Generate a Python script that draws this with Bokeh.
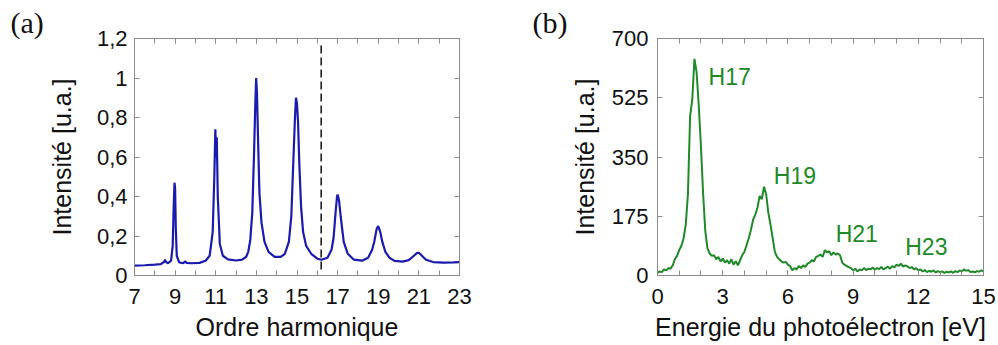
from bokeh.plotting import figure
from bokeh.models import Range1d, LinearAxis, FixedTicker, ColumnDataSource, CustomJSTickFormatter
from bokeh.layouts import row
from bokeh.core.properties import value
from bokeh.embed import file_html
from bokeh.resources import INLINE

# ---------------- data (a): harmonic spectrum ----------------
order_a = [7.0, 7.5, 8.0, 8.3, 8.45, 8.5, 8.55, 8.65, 8.8, 8.88, 8.93, 8.97, 9.0, 9.03, 9.08,
           9.2, 9.4, 9.5, 9.55, 9.8, 10.2, 10.5, 10.7, 10.85, 10.93, 10.98, 11.02, 11.05, 11.1,
           11.2, 11.35, 11.6, 12.0, 12.3, 12.5, 12.6, 12.7, 12.8, 12.88, 12.95, 12.99, 13.03, 13.08,
           13.15, 13.25, 13.4, 13.6, 13.9, 14.2, 14.4, 14.6, 14.72, 14.82, 14.9, 14.95, 15.0,
           15.05, 15.12, 15.2, 15.3, 15.45, 15.7, 16.0, 16.2, 16.5, 16.7, 16.8, 16.9, 16.97, 17.0,
           17.07, 17.15, 17.3, 17.5, 17.8, 18.2, 18.5, 18.7, 18.8, 18.92, 19.0, 19.1, 19.2,
           19.35, 19.55, 19.8, 20.2, 20.5, 20.7, 20.9, 21.0, 21.15, 21.35, 21.7, 22.2, 22.7, 23.0]
intens_a = [0.050, 0.052, 0.055, 0.058, 0.068, 0.080, 0.068, 0.062, 0.075, 0.15, 0.35, 0.47, 0.44, 0.25, 0.10,
            0.066, 0.063, 0.072, 0.064, 0.062, 0.064, 0.075, 0.10, 0.22, 0.50, 0.74, 0.60, 0.70, 0.40,
            0.16, 0.10, 0.082, 0.076, 0.080, 0.095, 0.12, 0.18, 0.32, 0.60, 0.88, 1.00, 0.92, 0.70,
            0.42, 0.27, 0.17, 0.12, 0.094, 0.094, 0.11, 0.17, 0.30, 0.58, 0.80, 0.90, 0.87,
            0.78, 0.55, 0.35, 0.22, 0.15, 0.11, 0.085, 0.080, 0.090, 0.13, 0.19, 0.32, 0.40, 0.41,
            0.38, 0.30, 0.17, 0.11, 0.080, 0.075, 0.090, 0.13, 0.17, 0.235, 0.25, 0.22, 0.17,
            0.12, 0.09, 0.074, 0.070, 0.078, 0.095, 0.113, 0.115, 0.10, 0.08, 0.068, 0.065, 0.066, 0.068]
cutoff_order = 16.19
cutoff_span = [0.03, 1.18]
x_ticks_a = [7, 9, 11, 13, 15, 17, 19, 21, 23]
x_minor_a = list(range(7, 24))
y_ticks_a = [0, 0.2, 0.4, 0.6, 0.8, 1.0, 1.2]
y_labels_a = ["0", "0,2", "0,4", "0,6", "0,8", "1", "1,2"]

# ---------------- data (b): photoelectron spectrum ----------------
energy_b = [0.0, 0.1, 0.2, 0.3, 0.4, 0.5, 0.6, 0.7, 0.8, 0.9, 1.0, 1.1, 1.2, 1.3, 1.4, 1.5, 1.6, 1.7,
            1.8, 1.9, 2.0, 2.1, 2.2, 2.3, 2.4, 2.5, 2.6, 2.7, 2.8, 2.9, 3.0, 3.1, 3.2, 3.3, 3.4, 3.5,
            3.6, 3.7, 3.8, 3.9, 4.0, 4.1, 4.2, 4.3, 4.4, 4.5, 4.6, 4.7, 4.8, 4.9, 5.0, 5.1, 5.2, 5.3,
            5.4, 5.5, 5.6, 5.7, 5.8, 5.9, 6.0, 6.1, 6.2, 6.3, 6.4, 6.5, 6.6, 6.7, 6.8, 6.9, 7.0, 7.1,
            7.2, 7.3, 7.4, 7.5, 7.6, 7.7, 7.8, 7.9, 8.0, 8.1, 8.2, 8.3, 8.4, 8.5, 8.6, 8.7, 8.8, 8.9,
            9.0, 9.1, 9.2, 9.3, 9.4, 9.5, 9.6, 9.7, 9.8, 9.9, 10.0, 10.1, 10.2, 10.3, 10.4, 10.5,
            10.6, 10.7, 10.8, 10.9, 11.0, 11.1, 11.2, 11.3, 11.4, 11.5, 11.6, 11.7, 11.8, 11.9, 12.0,
            12.1, 12.2, 12.3, 12.4, 12.5, 12.6, 12.7, 12.8, 12.9, 13.0, 13.1, 13.2, 13.3, 13.4, 13.5,
            13.6, 13.7, 13.8, 13.9, 14.0, 14.1, 14.2, 14.3, 14.4, 14.5, 14.6, 14.7, 14.8, 14.9, 15.0]
counts_b = [8, 12, 10, 18, 15, 22, 20, 30, 48, 58, 75, 88, 110, 150, 240, 470, 520, 640,
            600, 500, 380, 240, 130, 80, 65, 58, 60, 48, 55, 42, 50, 38, 45, 35, 48, 32,
            42, 30, 45, 60, 70, 90, 110, 135, 165, 180, 200, 235, 225, 262, 240, 185, 150, 110,
            70, 55, 48, 42, 38, 40, 32, 28, 15, 22, 18, 28, 22, 30, 25, 35, 38, 45,
            42, 55, 58, 62, 55, 75, 68, 72, 60, 68, 62, 65, 60, 38, 32, 28, 25, 22,
            15, 20, 12, 18, 15, 22, 16, 20, 18, 24, 17, 22, 19, 25, 18, 22,
            26, 20, 28, 24, 32, 28, 35, 26, 30, 27, 22, 25, 18, 22, 15,
            18, 12, 16, 10, 14, 11, 15, 9, 13, 10, 12, 8, 11, 9, 12,
            8, 13, 10, 15, 12, 18, 14, 16, 10, 12, 9, 13, 11, 15, 12]
peak_names = ["H17", "H19", "H21", "H23"]
peak_label_x = [2.35, 5.35, 8.2, 11.4]
peak_label_y = [585, 295, 124, 83]
x_ticks_b = [0, 3, 6, 9, 12, 15]
x_minor_b = list(range(0, 16))
y_ticks_b = [0, 175, 350, 525, 700]

BLUE = "#1a1aae"
GREEN = "#208a28"
FRAME = "#8c8c8c"
SANS = "Liberation Sans"
SERIF = "Liberation Serif"


def style(p, xt, xminor, yt, xlab, ylab, ystand, tick_stand_y, panel, panel_offset, yoverrides=None):
    p.background_fill_color = None
    p.border_fill_color = None
    p.outline_line_color = FRAME
    p.outline_line_width = 1
    p.grid.visible = False
    p.title.text = panel
    p.title.text_font = SERIF
    p.title.text_font_size = "30px"
    p.title.text_font_style = "normal"
    p.title.text_color = "#111111"
    p.title.align = "left"
    p.title.offset = panel_offset
    p.title.standoff = 0
    xa = p.xaxis[0]
    ya = p.yaxis[0]
    xa.ticker = FixedTicker(ticks=xt, minor_ticks=xminor)
    ya.ticker = FixedTicker(ticks=yt, minor_ticks=[])
    if yoverrides:
        ya.major_label_overrides = yoverrides
    for ax in (xa, ya):
        ax.axis_line_color = FRAME
        ax.major_tick_line_color = FRAME
        ax.minor_tick_line_color = FRAME
        ax.major_tick_in = 5
        ax.major_tick_out = 0
        ax.minor_tick_in = 5
        ax.minor_tick_out = 0
        ax.major_label_text_font = SANS
        ax.major_label_text_font_size = "22px"
        ax.major_label_text_color = "#111111"
        ax.axis_label_text_font = SANS
        ax.axis_label_text_font_size = "25px"
        ax.axis_label_text_font_style = "normal"
        ax.axis_label_text_color = "#111111"
    xa.axis_label = xlab
    ya.axis_label = ylab
    xa.major_label_standoff = 13
    ya.major_label_standoff = tick_stand_y
    xa.axis_label_standoff = 6
    ya.axis_label_standoff = ystand
    # mirrored axes (ticks only) on top and right
    blank = CustomJSTickFormatter(code="return ''")
    top = LinearAxis(ticker=FixedTicker(ticks=xt, minor_ticks=xminor), formatter=blank)
    right = LinearAxis(ticker=FixedTicker(ticks=yt, minor_ticks=[]), formatter=blank)
    for ax in (top, right):
        ax.axis_line_color = FRAME
        ax.major_tick_line_color = FRAME
        ax.minor_tick_line_color = FRAME
        ax.major_tick_in = 5
        ax.major_tick_out = 0
        ax.minor_tick_in = 5
        ax.minor_tick_out = 0
        ax.major_label_standoff = 0
        ax.axis_label = None
    p.add_layout(top, "above")
    p.add_layout(right, "right")


# ---------------- panel (a) ----------------
pa = figure(width=498, height=345, output_backend="svg", toolbar_location=None,
            x_range=Range1d(7, 23), y_range=Range1d(0, 1.2),
            min_border_left=134, min_border_right=39, min_border_top=38, min_border_bottom=69)
style(pa, x_ticks_a, x_minor_a, y_ticks_a, "Ordre harmonique", "Intensité [u.a.]", 18, 7,
      "(a)", -124, {t: l for t, l in zip(y_ticks_a, y_labels_a)})
pa.line(order_a, intens_a, line_color=BLUE, line_width=2.2)
pa.line([cutoff_order, cutoff_order], cutoff_span, line_color="#111111", line_width=1.5,
        line_dash="8 4")

# ---------------- panel (b) ----------------
pb = figure(width=500, height=345, output_backend="svg", toolbar_location=None,
            x_range=Range1d(0, 15), y_range=Range1d(0, 700),
            min_border_left=159, min_border_right=15, min_border_top=38, min_border_bottom=70)
style(pb, x_ticks_b, x_minor_b, y_ticks_b, "Energie du photoélectron [eV]", "Intensité [u.a.]", 10, 9,
      "(b)", -125)
pb.line(energy_b, counts_b, line_color=GREEN, line_width=2)
src = ColumnDataSource(dict(x=peak_label_x, y=peak_label_y, t=peak_names))
pb.text(x="x", y="y", text="t", source=src, text_color=GREEN, text_font=value(SANS),
        text_font_size="23px", text_baseline="middle", text_align="left")

layout = row(pa, pb)
open("out.html", "w").write(file_html(layout, INLINE))
